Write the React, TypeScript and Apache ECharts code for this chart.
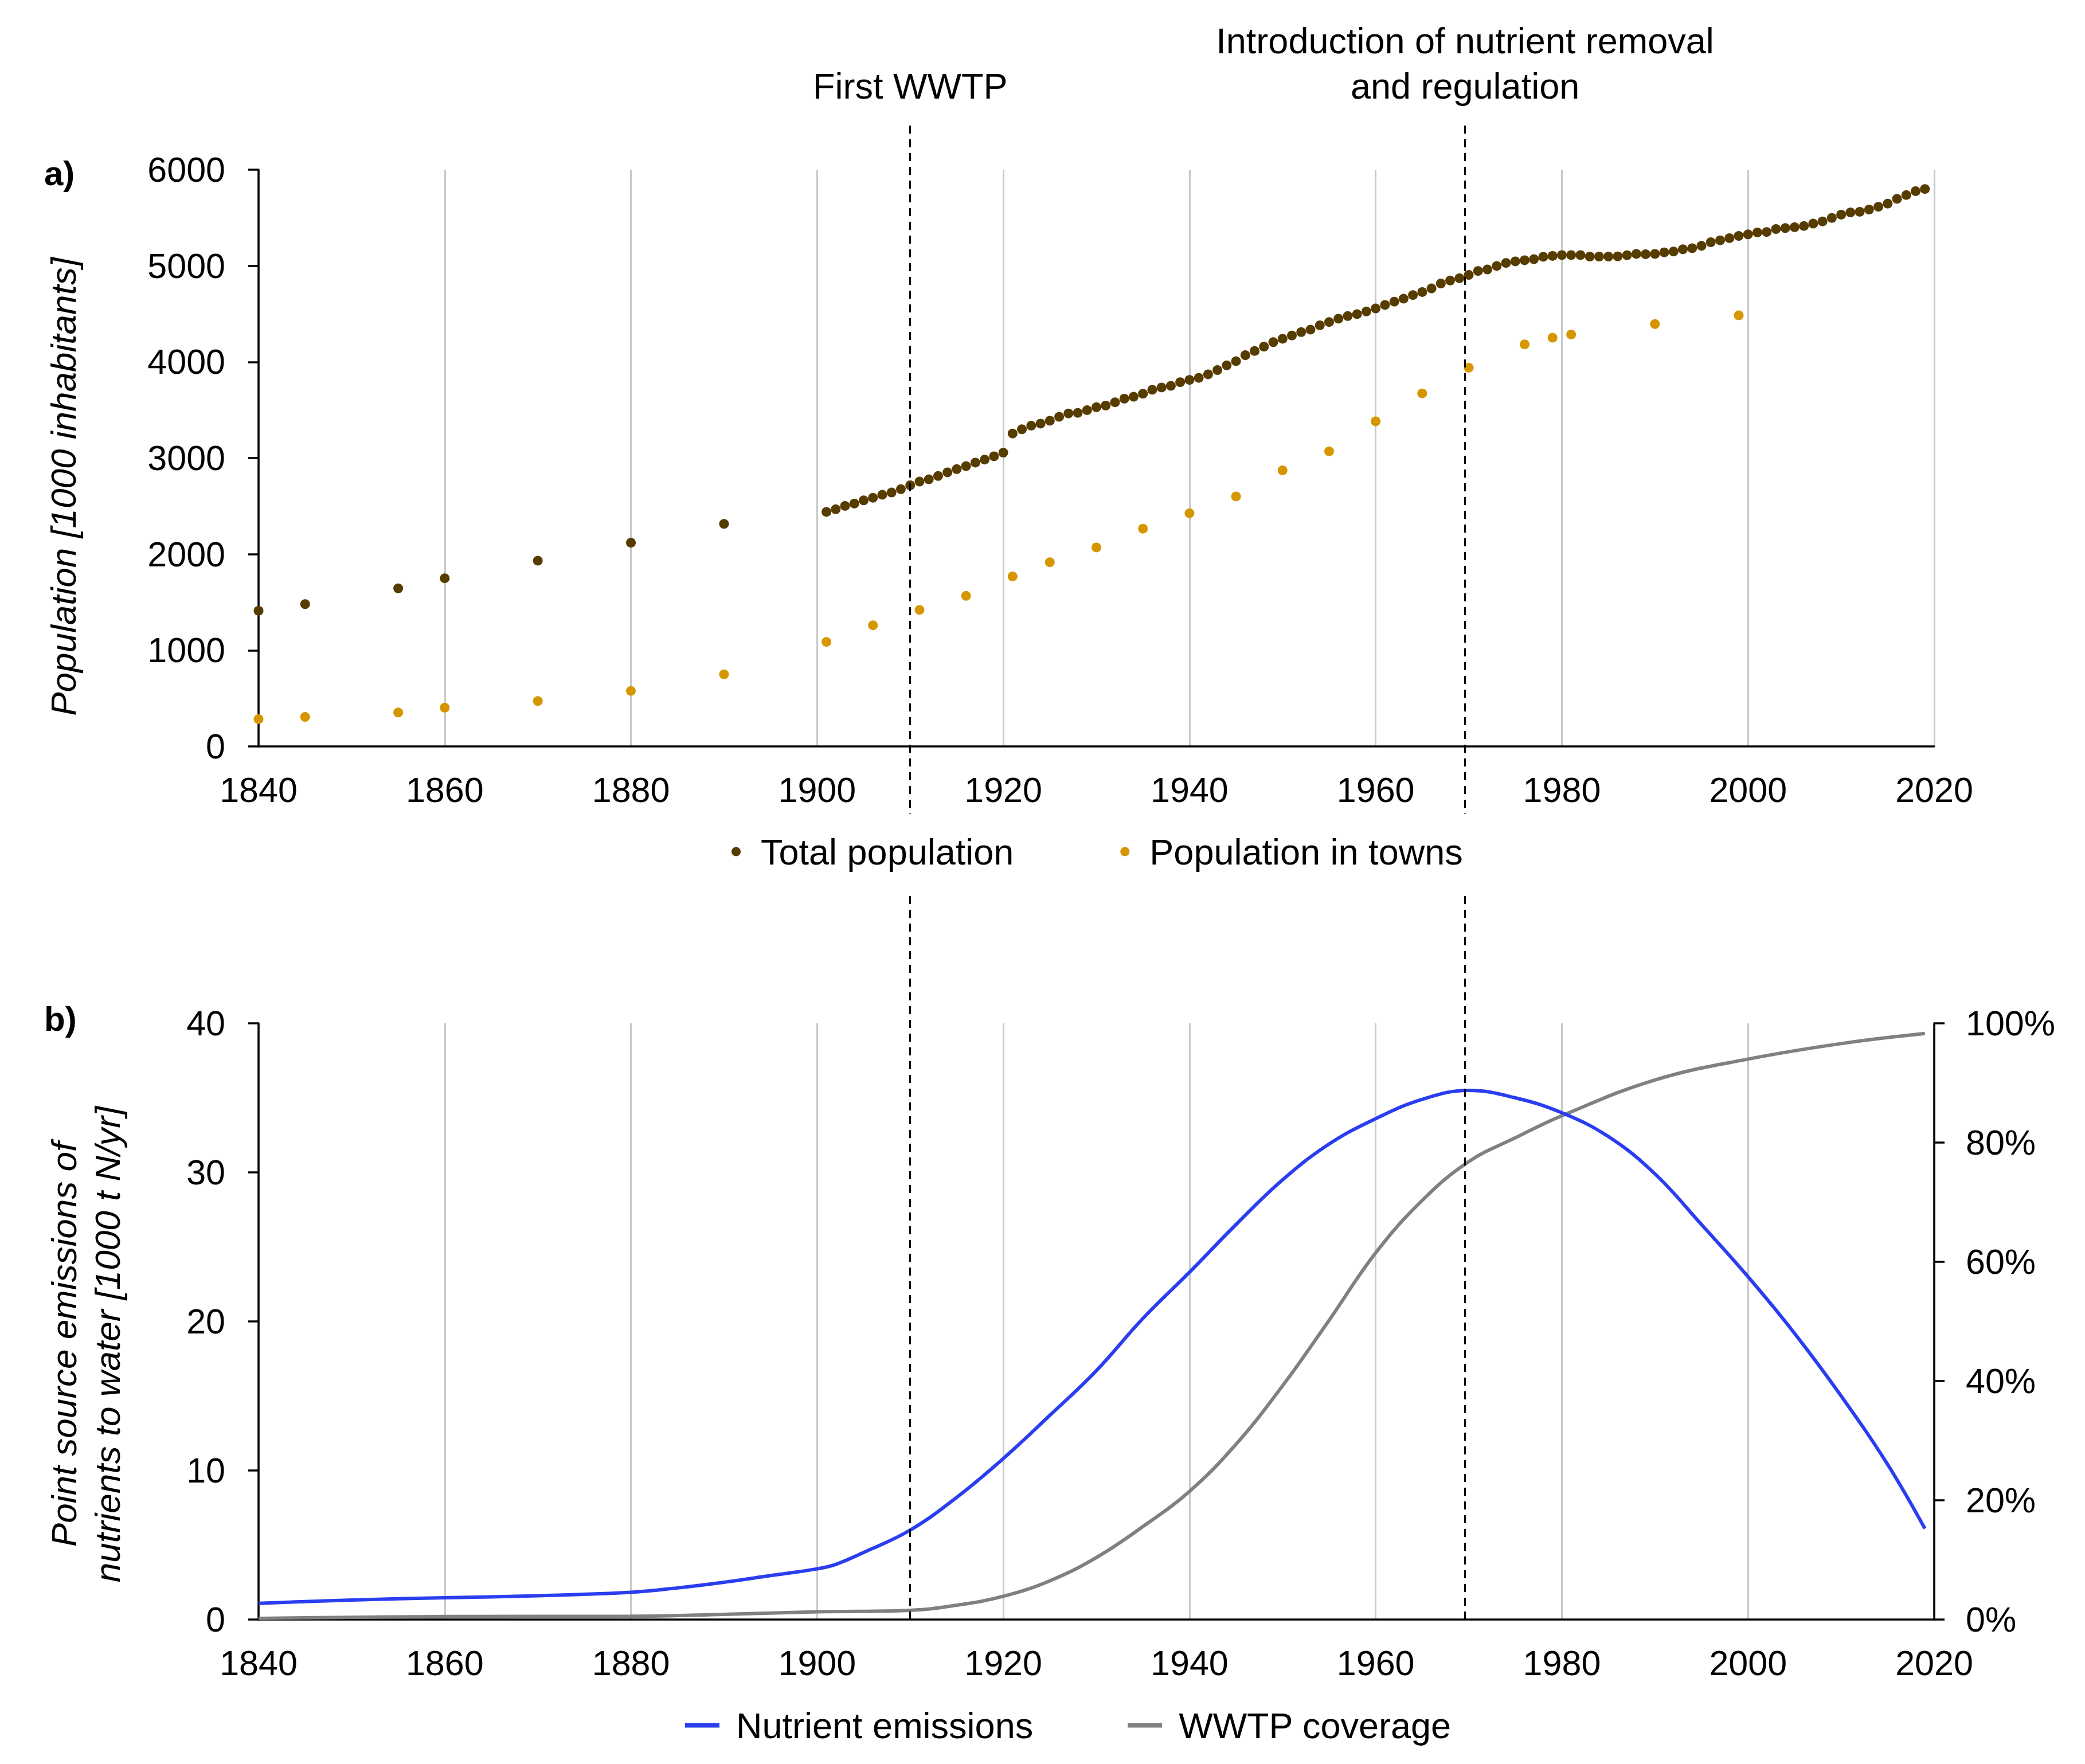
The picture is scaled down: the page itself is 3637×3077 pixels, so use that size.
import React, { useEffect, useRef } from "react";
import * as echarts from "echarts";

// ---------- DATA ----------
const xTicks = [1840, 1860, 1880, 1900, 1920, 1940, 1960, 1980, 2000, 2020];

const totalEarlyYears = [1840, 1845, 1855, 1860, 1870, 1880, 1890];
const totalEarlyValues = [1411, 1480, 1644, 1749, 1932, 2119, 2315];
const totalAnnualStart = 1901;
const totalAnnualValues = [
  2440, 2467, 2502, 2526, 2560, 2587, 2618, 2642, 2676, 2717,
  2755, 2779, 2813, 2851, 2885, 2916, 2953, 2984, 3018, 3056,
  3255, 3299, 3337, 3358, 3388, 3429, 3464, 3470, 3498, 3529,
  3546, 3580, 3618, 3638, 3669, 3710, 3734, 3751, 3789, 3813,
  3834, 3871, 3915, 3964, 4008, 4070, 4114, 4159, 4206, 4241,
  4275, 4310, 4336, 4381, 4415, 4450, 4477, 4497, 4525, 4556,
  4593, 4627, 4658, 4696, 4727, 4765, 4816, 4847, 4871, 4905,
  4946, 4962, 4998, 5030, 5046, 5058, 5069, 5094, 5103, 5112,
  5112, 5112, 5096, 5096, 5096, 5098, 5110, 5124, 5121, 5124,
  5140, 5149, 5172, 5183, 5208, 5245, 5265, 5288, 5311, 5327,
  5347, 5352, 5382, 5393, 5402, 5414, 5439, 5462, 5498, 5532,
  5555, 5562, 5585, 5614, 5647, 5697, 5736, 5777, 5799,
];

const townYears = [
  1840, 1845, 1855, 1860, 1870, 1880, 1890, 1901, 1906, 1911, 1916, 1921, 1925, 1930,
  1935, 1940, 1945, 1950, 1955, 1960, 1965, 1970, 1976, 1979, 1981, 1990, 1999,
];
const townValues = [
  284, 307, 353, 403, 472, 577, 750, 1087, 1260, 1420, 1567, 1769, 1916, 2070,
  2265, 2426, 2601, 2872, 3070, 3382, 3673, 3940, 4183, 4252, 4286, 4394, 4485,
];

const nutrientYears = [
  1840, 1850, 1860, 1870, 1880, 1885, 1890, 1895, 1900, 1902, 1905, 1910, 1915,
  1920, 1925, 1930, 1935, 1940, 1945, 1950, 1955, 1960, 1965, 1970, 1975, 1980,
  1985, 1990, 1995, 2000, 2005, 2010, 2015, 2019,
];
const nutrientValues = [
  1.09, 1.31, 1.46, 1.6, 1.83, 2.12, 2.5, 2.95, 3.4, 3.7, 4.5, 6.0, 8.2,
  10.8, 13.7, 16.7, 20.2, 23.3, 26.5, 29.5, 31.9, 33.6, 34.9, 35.5, 35.0, 34.0,
  32.4, 29.9, 26.5, 23.0, 19.2, 15.0, 10.4, 6.1,
];

const coverageYears = [
  1840, 1860, 1880, 1890, 1900, 1910, 1915, 1920, 1925, 1930, 1935, 1940, 1945,
  1950, 1955, 1960, 1965, 1970, 1975, 1980, 1990, 2000, 2010, 2019,
];
const coverageValues = [
  0.2, 0.5, 0.55, 0.87, 1.3, 1.55, 2.4, 3.9, 6.5, 10.4, 15.6, 21.5, 29.4,
  39.2, 50.2, 61.5, 70.3, 76.8, 80.8, 84.5, 90.5, 94.0, 96.6, 98.3,
];

const eventYears = [1910, 1969.6];
const eventLabels = ["First WWTP", "Introduction of nutrient removal\nand regulation"];

const seriesNames = ["Total population", "Population in towns", "Nutrient emissions", "WWTP coverage"];

// ---------- STYLE ----------
const FONT = "Liberation Sans, Arial, sans-serif";
const BLACK = "#000000";
const GRIDLINE = "#c8c8c8";
const C_TOTAL = "#573c00";
const C_TOWN = "#d69600";
const C_NUTR = "#2a3ef0";
const C_COV = "#808080";

export default function App() {
  const ref = useRef<HTMLDivElement | null>(null);

  useEffect(() => {
    document.body.style.margin = "0";
    if (!ref.current) return;
    const chart = echarts.init(ref.current, undefined, { renderer: "svg" });

    const totalData: number[][] = totalEarlyYears.map((y, i) => [y, totalEarlyValues[i]]);
    totalAnnualValues.forEach((v, i) => totalData.push([totalAnnualStart + i, v]));
    const townData = townYears.map((y, i) => [y, townValues[i]]);
    const nutrientData = nutrientYears.map((y, i) => [y, nutrientValues[i]]);
    const coverageData = coverageYears.map((y, i) => [y, coverageValues[i]]);

    const xMin = xTicks[0];
    const xMax = xTicks[xTicks.length - 1];

    const mkX = (gridIndex: number) => ({
      type: "value",
      gridIndex,
      min: xMin,
      max: xMax,
      interval: 20,
      axisLine: { show: true, onZero: false, lineStyle: { color: BLACK, width: 3.5 } },
      axisTick: { show: false },
      axisLabel: {
        formatter: (v: number) => String(v),
        fontSize: 61,
        color: BLACK,
        margin: 45,
        fontFamily: FONT,
      },
      splitLine: { show: true, lineStyle: { color: GRIDLINE, width: 3 } },
    });

    const yCommon = {
      type: "value",
      axisLine: { show: true, lineStyle: { color: BLACK, width: 3.5 } },
      axisTick: { show: true, length: 18, lineStyle: { color: BLACK, width: 3.5 } },
      splitLine: { show: false },
      nameLocation: "middle",
      nameRotate: 90,
    };

    const option: any = {
      animation: false,
      backgroundColor: "#ffffff",
      textStyle: { fontFamily: FONT, color: BLACK },
      grid: [
        { left: 451, right: 263, top: 296, height: 1006 },
        { left: 451, right: 263, top: 1785, height: 1040 },
        { left: 451, right: 263, top: 217, height: 2608 },
      ],
      xAxis: [
        mkX(0),
        mkX(1),
        { type: "value", gridIndex: 2, min: xMin, max: xMax, show: false },
      ],
      yAxis: [
        {
          ...yCommon,
          gridIndex: 0,
          min: 0,
          max: 6000,
          interval: 1000,
          axisLabel: { formatter: (v: number) => String(v), fontSize: 61, color: BLACK, margin: 58, fontFamily: FONT },
          name: "Population [1000 inhabitants]",
          nameGap: 310,
          nameTextStyle: {
            fontSize: 62,
            fontStyle: "italic",
            color: BLACK,
            fontFamily: FONT,
            padding: [0, 100, 0, 0],
          },
        },
        {
          ...yCommon,
          gridIndex: 1,
          min: 0,
          max: 40,
          interval: 10,
          axisLabel: { formatter: (v: number) => String(v), fontSize: 61, color: BLACK, margin: 58, fontFamily: FONT },
          name: "Point source emissions of\nnutrients to water [1000 t N/yr]",
          nameGap: 226,
          nameTextStyle: {
            fontSize: 62,
            lineHeight: 76,
            fontStyle: "italic",
            color: BLACK,
            fontFamily: FONT,
            padding: [0, 80, 0, 0],
          },
        },
        {
          ...yCommon,
          gridIndex: 1,
          position: "right",
          min: 0,
          max: 100,
          interval: 20,
          axisLabel: { formatter: "{value}%", fontSize: 61, color: BLACK, margin: 55, fontFamily: FONT },
        },
        { type: "value", gridIndex: 2, min: 0, max: 1, show: false },
      ],
      legend: [
        {
          data: [seriesNames[0], seriesNames[1]],
          left: 1256,
          top: 1420,
          z: 10,
          orient: "horizontal",
          icon: "circle",
          itemWidth: 16,
          itemHeight: 16,
          itemGap: 186,
          backgroundColor: "#ffffff",
          padding: [34, 20, 36, 20],
          textStyle: { fontSize: 63, color: BLACK, fontFamily: FONT, padding: [0, 0, 0, 30] },
          selectedMode: false,
        },
        {
          data: [seriesNames[2], seriesNames[3]],
          left: 1195,
          top: 2978,
          z: 10,
          orient: "horizontal",
          icon: "rect",
          itemWidth: 60,
          itemHeight: 8,
          itemGap: 165,
          padding: 0,
          textStyle: { fontSize: 63, color: BLACK, fontFamily: FONT, padding: [0, 0, 0, 24] },
          selectedMode: false,
        },
      ],
      graphic: [
        { type: "text", left: 77, top: 272, style: { text: "a)", font: `bold 60px ${FONT}`, fill: BLACK } },
        { type: "text", left: 77, top: 1747, style: { text: "b)", font: `bold 60px ${FONT}`, fill: BLACK } },
      ],
      series: [
        {
          name: seriesNames[0],
          type: "scatter",
          xAxisIndex: 0,
          yAxisIndex: 0,
          symbol: "circle",
          symbolSize: 17,
          itemStyle: { color: C_TOTAL, opacity: 1 },
          data: totalData,
          z: 3,
        },
        {
          name: seriesNames[1],
          type: "scatter",
          xAxisIndex: 0,
          yAxisIndex: 0,
          symbol: "circle",
          symbolSize: 17,
          itemStyle: { color: C_TOWN, opacity: 1 },
          data: townData,
          z: 3,
        },
        {
          name: seriesNames[2],
          type: "line",
          xAxisIndex: 1,
          yAxisIndex: 1,
          symbol: "none",
          smooth: 0.4,
          lineStyle: { color: C_NUTR, width: 6 },
          itemStyle: { color: C_NUTR },
          data: nutrientData,
          z: 3,
        },
        {
          name: seriesNames[3],
          type: "line",
          xAxisIndex: 1,
          yAxisIndex: 2,
          symbol: "none",
          smooth: 0.4,
          lineStyle: { color: C_COV, width: 6 },
          itemStyle: { color: C_COV },
          data: coverageData,
          z: 2,
        },
        {
          name: "events",
          type: "line",
          xAxisIndex: 2,
          yAxisIndex: 3,
          data: [],
          silent: true,
          markLine: {
            silent: true,
            symbol: ["none", "none"],
            lineStyle: { color: BLACK, width: 3, type: [14, 10] },
            label: {
              show: true,
              position: "end",
              formatter: "{b}",
              distance: 28,
              fontSize: 63,
              lineHeight: 79,
              color: BLACK,
              fontFamily: FONT,
              align: "center",
            },
            emphasis: { disabled: true },
            data: eventYears.map((y, i) => ({ xAxis: y, name: eventLabels[i] })),
          },
        },
      ],
    };

    chart.setOption(option);
    return () => chart.dispose();
  }, []);

  return <div ref={ref} style={{ width: 3637, height: 3077 }} />;
}
